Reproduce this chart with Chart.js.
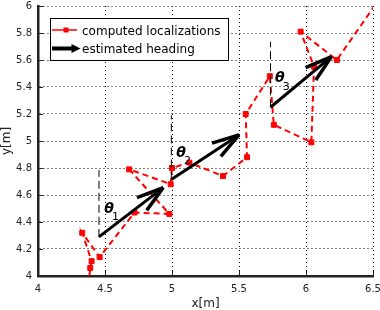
<!DOCTYPE html>
<html><head><meta charset="utf-8">
<script src="https://cdn.jsdelivr.net/npm/chart.js@4"></script>
<style>html,body{margin:0;padding:0;background:#fff;}#wrap{width:380px;height:310px;}</style>
</head><body><div id="wrap"><canvas id="c" width="380" height="310"></canvas></div>
<script>
// ---- data ----
const xTicks = [4, 4.5, 5, 5.5, 6, 6.5];
const xTickLabels = ['4', '4.5', '5', '5.5', '6', '6.5'];
const yTicks = [4, 4.2, 4.4, 4.6, 4.8, 5, 5.2, 5.4, 5.6, 5.8, 6];
const yTickLabels = ['4', '4.2', '4.4', '4.6', '4.8', '5', '5.2', '5.4', '5.6', '5.8', '6'];
// computed localizations (path order)
const pathX = [4.375, 4.39, 4.40, 4.33, 4.46, 4.72, 4.98, 4.68, 4.99, 5.00, 5.13, 5.38, 5.56, 5.55, 5.73, 5.76, 6.04, 6.06, 5.96, 6.23, 6.56];
const pathY = [3.93, 4.06, 4.11, 4.32, 4.14, 4.47, 4.46, 4.79, 4.68, 4.80, 4.84, 4.74, 4.88, 5.20, 5.48, 5.12, 4.99, 5.55, 5.81, 5.60, 6.07];
// estimated heading arrows
const arrowTailX = [4.455, 4.995, 5.735];
const arrowTailY = [4.29, 4.715, 5.25];
const arrowTipX = [4.935, 5.50, 6.19];
const arrowTipY = [4.655, 5.045, 5.625];
// vertical reference lines (top end), start at the arrow tail
const refTopY = [4.785, 5.19, 5.735];
// theta labels
const thetaX = [4.53, 5.067, 5.804];
const thetaY = [4.496, 4.911, 5.464];
const thetaSubs = ['1', '2', '3'];
const legendLabels = ['computed localizations', 'estimated heading'];
const xTitle = 'x[m]';
const yTitle = 'y[m]';

const FONT = "'DejaVu Sans', sans-serif";
const RED = '#ff0000';

const datasets = [];
for (let i = 0; i < arrowTailX.length; i++) {
  datasets.push({
    data: [{x: arrowTailX[i], y: arrowTailY[i]}, {x: arrowTipX[i], y: arrowTipY[i]}],
    showLine: true, borderColor: '#000', borderWidth: 3, pointRadius: 0, borderCapStyle: 'butt'
  });
}
for (let i = 0; i < arrowTailX.length; i++) {
  datasets.push({
    data: [{x: arrowTailX[i], y: arrowTailY[i]}, {x: arrowTailX[i], y: refTopY[i]}],
    showLine: true, borderColor: '#000', borderWidth: 1, borderDash: [8, 4], pointRadius: 0
  });
}
datasets.push({
  data: pathX.map((x, i) => ({x: x, y: pathY[i]})),
  showLine: true, borderColor: RED, borderWidth: 2, borderDash: [6, 4],
  pointStyle: 'rect', pointRadius: 3.5, pointBackgroundColor: RED, pointBorderColor: RED, pointBorderWidth: 1
});

const decorPlugin = {
  id: 'decor',
  afterDatasetsDraw(chart) {
    const ctx = chart.ctx, sx = chart.scales.x, sy = chart.scales.y;
    ctx.save();
    // arrow heads
    ctx.strokeStyle = '#000'; ctx.lineWidth = 3.5; ctx.lineCap = 'butt';
    for (let i = 0; i < arrowTailX.length; i++) {
      const x0 = sx.getPixelForValue(arrowTailX[i]), y0 = sy.getPixelForValue(arrowTailY[i]);
      const x1 = sx.getPixelForValue(arrowTipX[i]), y1 = sy.getPixelForValue(arrowTipY[i]);
      const dx = x1 - x0, dy = y1 - y0, len = Math.hypot(dx, dy);
      const ux = dx / len, uy = dy / len, nx = -uy, ny = ux;
      const L = 27, W = 8;
      [1, -1].forEach(s => {
        ctx.beginPath();
        ctx.moveTo(x1 - L * ux + s * W * nx, y1 - L * uy + s * W * ny);
        ctx.lineTo(x1, y1);
        ctx.stroke();
      });
    }
    // theta labels
    ctx.fillStyle = '#000';
    ctx.textAlign = 'center'; ctx.textBaseline = 'middle';
    for (let i = 0; i < thetaX.length; i++) {
      const px = sx.getPixelForValue(thetaX[i]), py = sy.getPixelForValue(thetaY[i]);
      ctx.font = "bold italic 14px " + FONT;
      ctx.fillText('θ', px, py);
      ctx.font = "11px " + FONT;
      ctx.fillText(thetaSubs[i], px + 6.5, py + 8.5);
    }
    ctx.restore();
  },
  afterDraw(chart) {
    const ctx = chart.ctx, sx = chart.scales.x, sy = chart.scales.y, a = chart.chartArea;
    ctx.save();
    // inward tick marks
    ctx.strokeStyle = '#222'; ctx.lineWidth = 1;
    xTicks.forEach(v => {
      const p = Math.round(sx.getPixelForValue(v)) + 0.5;
      ctx.beginPath(); ctx.moveTo(p, a.bottom); ctx.lineTo(p, a.bottom - 5); ctx.stroke();
    });
    yTicks.forEach(v => {
      const p = Math.round(sy.getPixelForValue(v)) + 0.5;
      ctx.beginPath(); ctx.moveTo(a.left, p); ctx.lineTo(a.left + 5, p); ctx.stroke();
    });
    // legend box
    const bx = 50.5, by = 18.5, bw = 178, bh = 42;
    ctx.fillStyle = '#fff'; ctx.fillRect(bx, by, bw, bh);
    ctx.strokeStyle = '#000'; ctx.lineWidth = 1; ctx.strokeRect(bx, by, bw, bh);
    // entry 1
    ctx.strokeStyle = RED; ctx.lineWidth = 1.5;
    ctx.beginPath(); ctx.moveTo(52, 30); ctx.lineTo(77, 30); ctx.stroke();
    ctx.fillStyle = RED; ctx.fillRect(63.5, 27.5, 5, 5);
    // entry 2
    ctx.strokeStyle = '#000'; ctx.lineWidth = 4;
    ctx.beginPath(); ctx.moveTo(52, 48.5); ctx.lineTo(74, 48.5); ctx.stroke();
    ctx.fillStyle = '#000';
    ctx.beginPath(); ctx.moveTo(80.5, 48.5); ctx.lineTo(71.5, 44); ctx.lineTo(71.5, 53); ctx.closePath(); ctx.fill();
    ctx.fillStyle = '#000'; ctx.font = "12px " + FONT;
    ctx.textAlign = 'left'; ctx.textBaseline = 'alphabetic';
    ctx.fillText(legendLabels[0], 82, 34.5);
    ctx.fillText(legendLabels[1], 82, 52.5);
    ctx.restore();
  }
};

const tickFont = {family: FONT, size: 10};
const titleFont = {family: FONT, size: 12, lineHeight: 1};

new Chart(document.getElementById('c'), {
  type: 'scatter',
  data: {datasets: datasets},
  options: {
    responsive: false, animation: false, devicePixelRatio: 1,
    layout: {autoPadding: false, padding: {top: 6, right: 7, left: 0, bottom: 0}},
    plugins: {legend: {display: false}, tooltip: {enabled: false}},
    scales: {
      x: {
        type: 'linear', position: 'bottom', min: 4, max: 6.5,
        afterBuildTicks: s => { s.ticks = xTicks.map(v => ({value: v})); },
        afterFit: s => { s.height = 34; s.paddingLeft = 0; s.paddingRight = 0; },
        ticks: {
          callback: (v) => xTickLabels[xTicks.findIndex(t => Math.abs(t - v) < 1e-9)],
          font: tickFont, color: '#222', padding: 7, maxRotation: 0, autoSkip: false
        },
        grid: {color: '#000', lineWidth: 1, drawTicks: false},
        border: {color: '#222', width: 2.5, dash: [1, 3]},
        title: {display: true, text: xTitle, font: titleFont, color: '#222', padding: 0}
      },
      y: {
        type: 'linear', position: 'left', min: 4, max: 6,
        afterBuildTicks: s => { s.ticks = yTicks.map(v => ({value: v})); },
        afterFit: s => { s.width = 38; s.paddingTop = 0; s.paddingBottom = 0; },
        ticks: {
          callback: (v) => yTickLabels[yTicks.findIndex(t => Math.abs(t - v) < 1e-9)],
          font: tickFont, color: '#222', padding: 6, autoSkip: false
        },
        grid: {color: '#000', lineWidth: 1, drawTicks: false},
        border: {color: '#222', width: 2.5, dash: [1, 3]},
        title: {display: true, text: yTitle, font: titleFont, color: '#222', padding: {top: 1, bottom: 0}}
      }
    }
  },
  plugins: [decorPlugin]
});
</script></body></html>
